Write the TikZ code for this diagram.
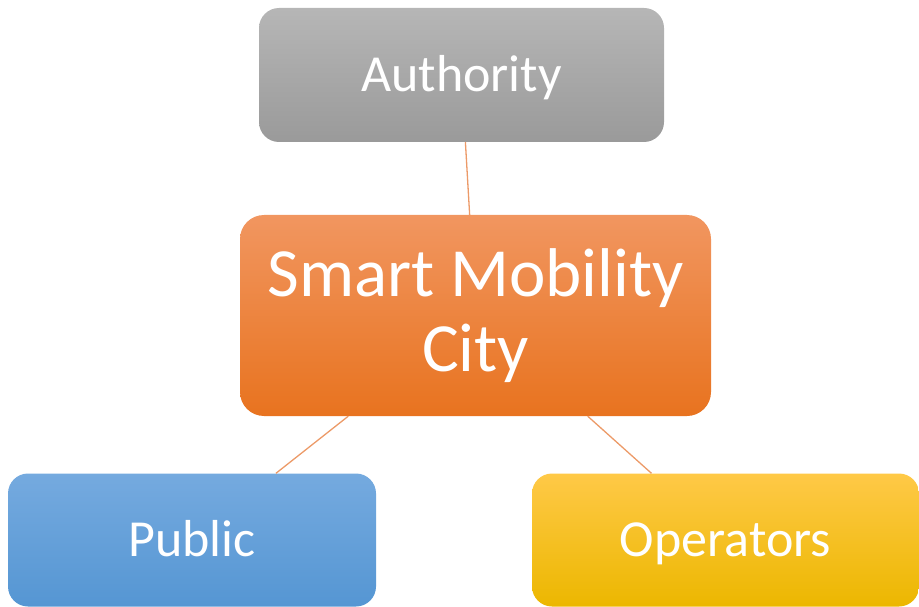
\documentclass[tikz,border=0pt]{standalone}
\usepackage{fontspec}
\setmainfont{Carlito}
\begin{document}
\begin{tikzpicture}[x=1pt,y=-1pt,
  box/.style={rectangle, rounded corners=20pt, inner sep=0pt, text=white,
    align=center, font=\fontsize{52}{60}\selectfont},
  oneline/.style={text height=33.5pt, text depth=0pt},
  grey/.style={top color=authTop, bottom color=authBot},
  orange/.style={top color=cityTop, bottom color=cityBot},
  blue/.style={top color=pubTop, bottom color=pubBot},
  yellow/.style={top color=opTop, bottom color=opBot},
  link/.style={draw=linkCol, line width=1.3pt}]
\definecolor{authTop}{HTML}{B6B6B6}
\definecolor{authBot}{HTML}{9A9A9A}
\definecolor{cityTop}{HTML}{F19660}
\definecolor{cityBot}{HTML}{E8731F}
\definecolor{pubTop}{HTML}{75AADF}
\definecolor{pubBot}{HTML}{5596D3}
\definecolor{opTop}{HTML}{FFC947}
\definecolor{opBot}{HTML}{ECB700}
\definecolor{linkCol}{HTML}{EC9A68}
\useasboundingbox (0,0) rectangle (919,607);
\node[box, oneline, grey, minimum width=405pt, minimum height=134pt] (auth) at (461.5,75) {Authority};
\node[box, orange, rounded corners=24pt, minimum width=471pt, minimum height=201pt,
      font=\fontsize{69}{75}\selectfont] (city) at (475.5,315.5) {Smart Mobility\\City};
\node[box, oneline, blue, minimum width=368pt, minimum height=133pt] (pub) at (192,540) {Public};
\node[box, oneline, yellow, minimum width=387pt, minimum height=133pt] (oper) at (725.5,540) {Operators};
\draw[link] (auth) -- (city);
\draw[link] (city) -- (pub);
\draw[link] (city) -- (oper);
\end{tikzpicture}
\end{document}
